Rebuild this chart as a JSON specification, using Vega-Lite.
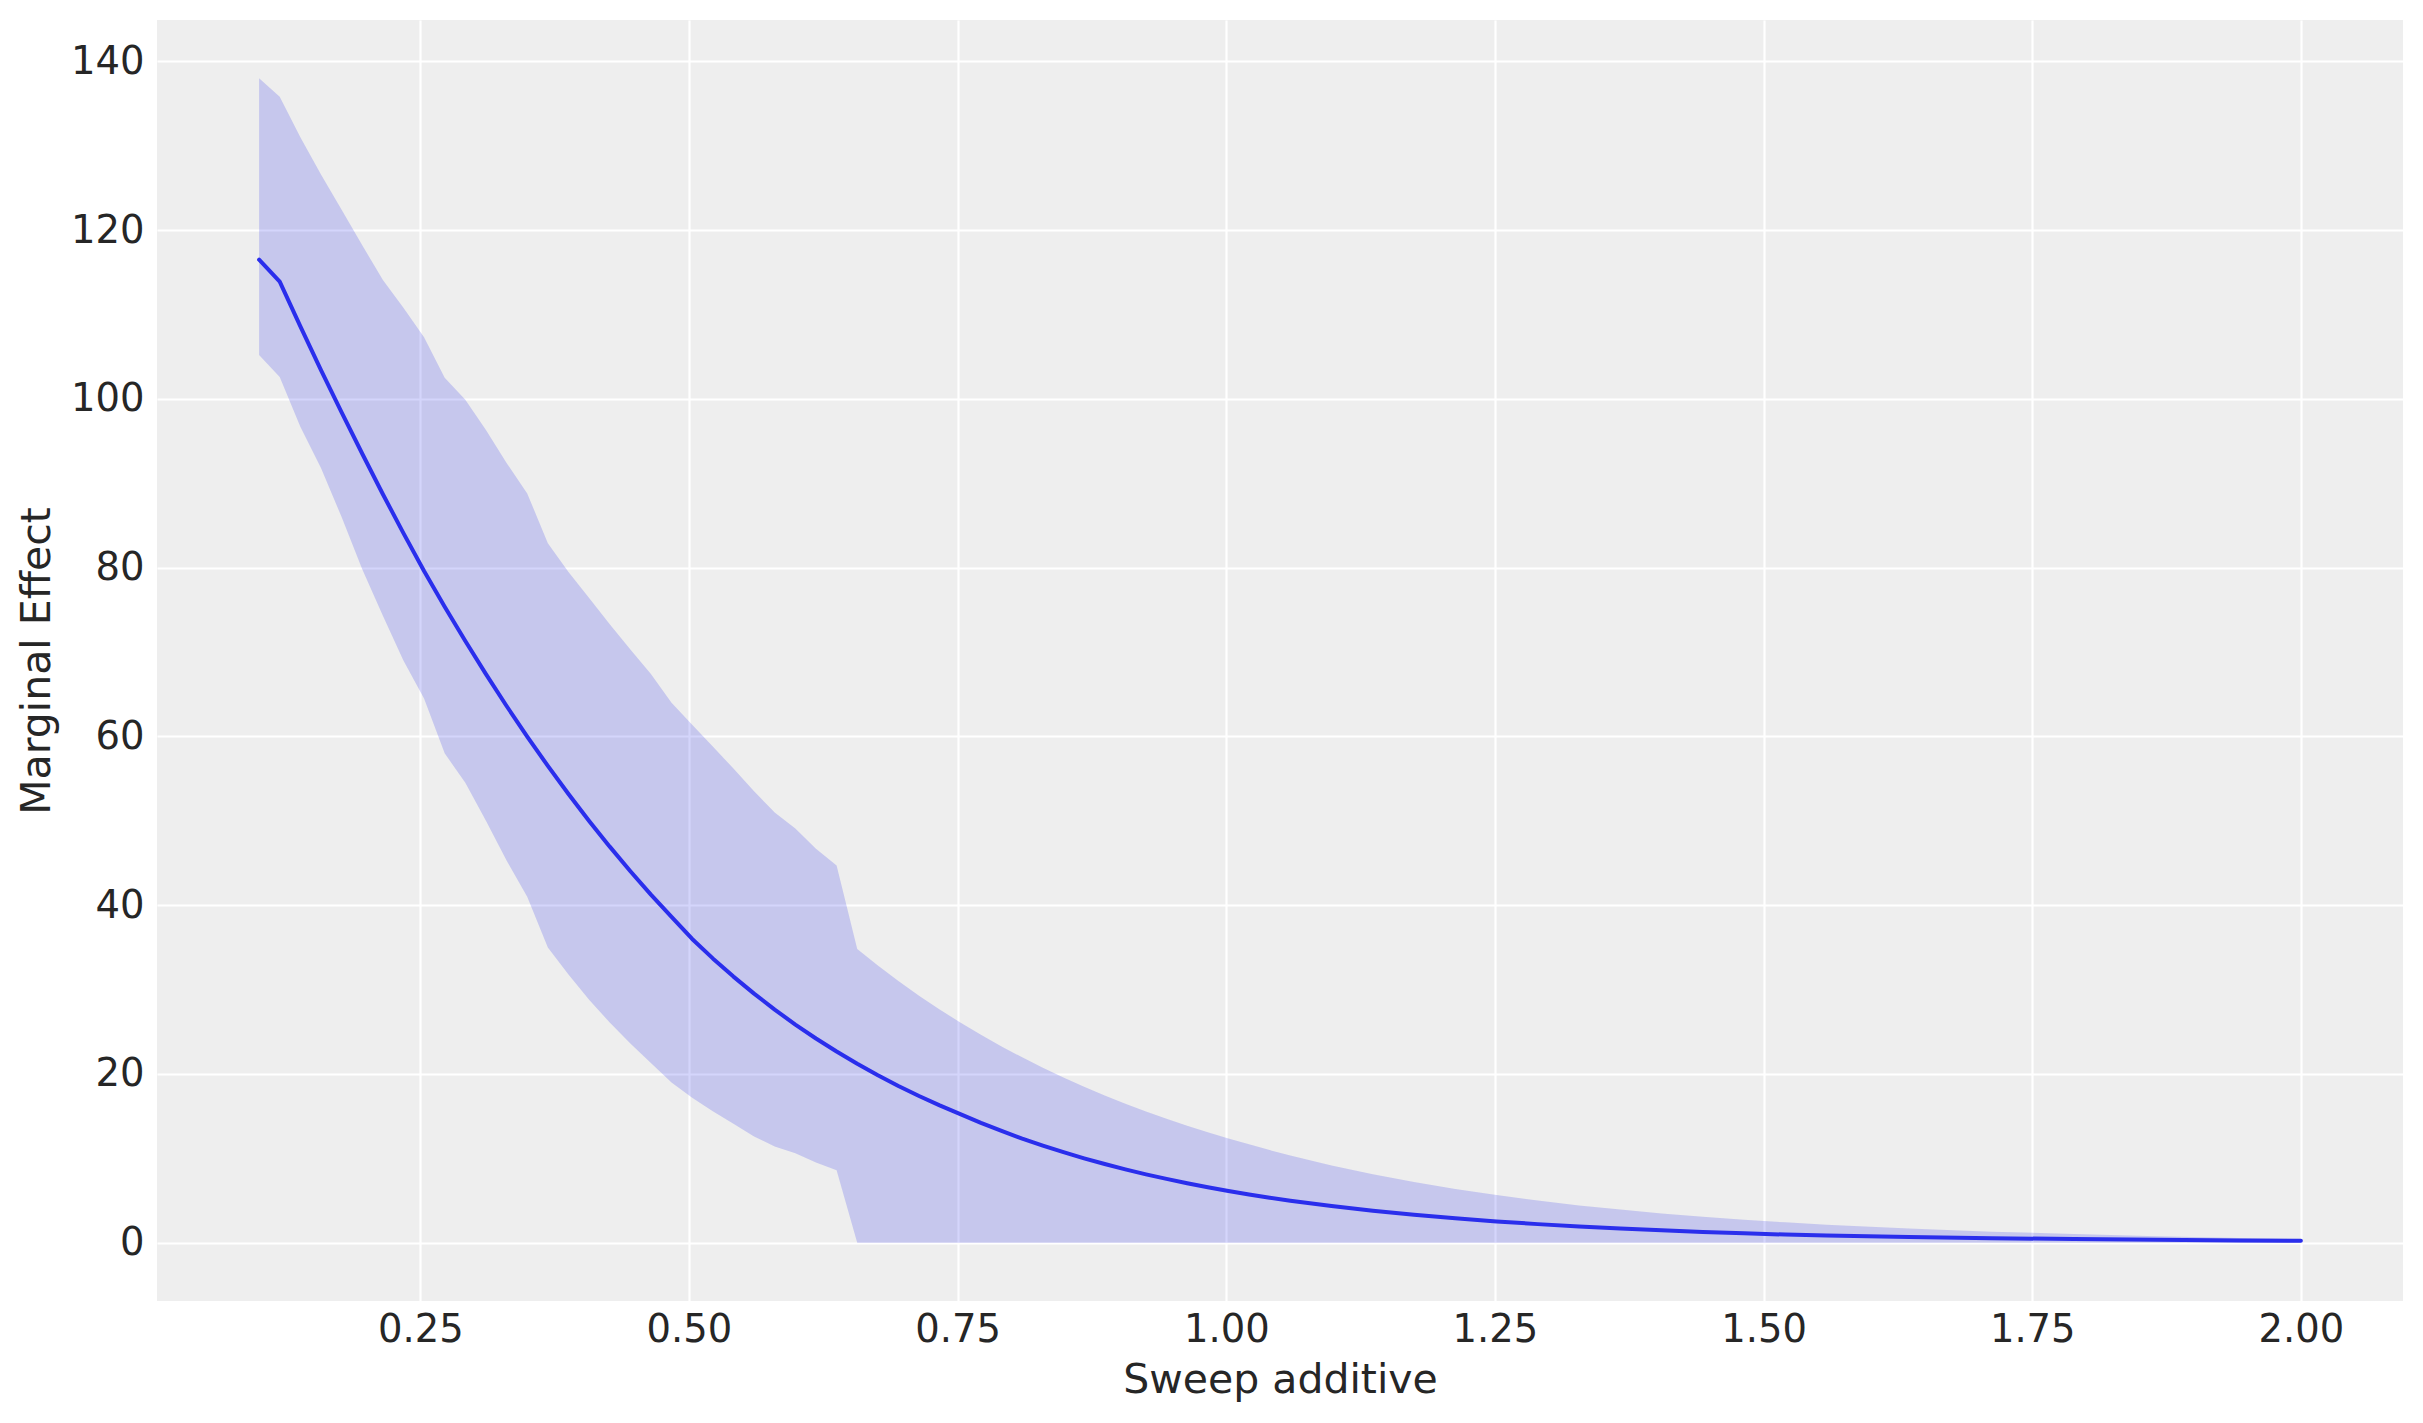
{
  "$schema": "https://vega.github.io/schema/vega-lite/v6.json",
  "description": "Marginal effect of sweep additive with HDI band.",
  "width": 2246,
  "height": 1281,
  "autosize": {"type": "none"},
  "padding": {"left": 157, "top": 20, "right": 20, "bottom": 122},
  "background": "white",
  "data": {
    "values": [
      {"x": 0.1, "mean": 116.5, "lo": 105.2, "hi": 138.0},
      {"x": 0.1192, "mean": 113.9, "lo": 102.6, "hi": 135.8},
      {"x": 0.1384, "mean": 108.6, "lo": 96.7, "hi": 131.0},
      {"x": 0.1576, "mean": 103.4, "lo": 91.8, "hi": 126.6},
      {"x": 0.1768, "mean": 98.4, "lo": 86.0, "hi": 122.4},
      {"x": 0.196, "mean": 93.5, "lo": 79.8, "hi": 118.2},
      {"x": 0.2152, "mean": 88.7, "lo": 74.3, "hi": 114.1},
      {"x": 0.2343, "mean": 84.1, "lo": 69.0, "hi": 110.8},
      {"x": 0.2535, "mean": 79.6, "lo": 64.5, "hi": 107.3},
      {"x": 0.2727, "mean": 75.38, "lo": 58.0, "hi": 102.5},
      {"x": 0.2919, "mean": 71.31, "lo": 54.5, "hi": 99.9},
      {"x": 0.3111, "mean": 67.39, "lo": 50.0, "hi": 96.3},
      {"x": 0.3303, "mean": 63.61, "lo": 45.3, "hi": 92.4},
      {"x": 0.3495, "mean": 59.99, "lo": 41.0, "hi": 88.8},
      {"x": 0.3687, "mean": 56.51, "lo": 35.0, "hi": 82.9},
      {"x": 0.3879, "mean": 53.18, "lo": 31.8, "hi": 79.5},
      {"x": 0.4071, "mean": 49.99, "lo": 28.8, "hi": 76.4},
      {"x": 0.4263, "mean": 46.94, "lo": 26.1, "hi": 73.3},
      {"x": 0.4455, "mean": 44.03, "lo": 23.6, "hi": 70.3},
      {"x": 0.4646, "mean": 41.26, "lo": 21.3, "hi": 67.4},
      {"x": 0.4838, "mean": 38.62, "lo": 19.0, "hi": 64.0},
      {"x": 0.503, "mean": 36.0, "lo": 17.2, "hi": 61.4},
      {"x": 0.5222, "mean": 33.7, "lo": 15.6, "hi": 58.8},
      {"x": 0.5414, "mean": 31.54, "lo": 14.1, "hi": 56.2},
      {"x": 0.5606, "mean": 29.52, "lo": 12.6, "hi": 53.5},
      {"x": 0.5798, "mean": 27.63, "lo": 11.4, "hi": 51.0},
      {"x": 0.599, "mean": 25.86, "lo": 10.6, "hi": 49.1},
      {"x": 0.6182, "mean": 24.21, "lo": 9.5, "hi": 46.7},
      {"x": 0.6374, "mean": 22.66, "lo": 8.6, "hi": 44.7},
      {"x": 0.6566, "mean": 21.21, "lo": 0, "hi": 34.8},
      {"x": 0.6758, "mean": 19.85, "lo": 0, "hi": 32.85},
      {"x": 0.6949, "mean": 18.58, "lo": 0, "hi": 31.02},
      {"x": 0.7141, "mean": 17.39, "lo": 0, "hi": 29.28},
      {"x": 0.7333, "mean": 16.28, "lo": 0, "hi": 27.65},
      {"x": 0.7525, "mean": 15.24, "lo": 0, "hi": 26.1},
      {"x": 0.7717, "mean": 14.21, "lo": 0, "hi": 24.64},
      {"x": 0.7909, "mean": 13.25, "lo": 0, "hi": 23.27},
      {"x": 0.8101, "mean": 12.35, "lo": 0, "hi": 21.97},
      {"x": 0.8293, "mean": 11.52, "lo": 0, "hi": 20.74},
      {"x": 0.8485, "mean": 10.74, "lo": 0, "hi": 19.58},
      {"x": 0.8677, "mean": 10.01, "lo": 0, "hi": 18.48},
      {"x": 0.8869, "mean": 9.33, "lo": 0, "hi": 17.45},
      {"x": 0.9061, "mean": 8.7, "lo": 0, "hi": 16.48},
      {"x": 0.9253, "mean": 8.11, "lo": 0, "hi": 15.55},
      {"x": 0.9444, "mean": 7.57, "lo": 0, "hi": 14.69},
      {"x": 0.9636, "mean": 7.05, "lo": 0, "hi": 13.86},
      {"x": 0.9828, "mean": 6.58, "lo": 0, "hi": 13.09},
      {"x": 1.002, "mean": 6.13, "lo": 0, "hi": 12.36},
      {"x": 1.0212, "mean": 5.72, "lo": 0, "hi": 11.67},
      {"x": 1.0404, "mean": 5.34, "lo": 0, "hi": 10.98},
      {"x": 1.0596, "mean": 4.99, "lo": 0, "hi": 10.34},
      {"x": 1.098, "mean": 4.36, "lo": 0, "hi": 9.16},
      {"x": 1.1364, "mean": 3.8, "lo": 0, "hi": 8.12},
      {"x": 1.1747, "mean": 3.32, "lo": 0, "hi": 7.19},
      {"x": 1.2131, "mean": 2.9, "lo": 0, "hi": 6.37},
      {"x": 1.2515, "mean": 2.53, "lo": 0, "hi": 5.65},
      {"x": 1.2899, "mean": 2.21, "lo": 0, "hi": 5.0},
      {"x": 1.3283, "mean": 1.93, "lo": 0, "hi": 4.43},
      {"x": 1.3667, "mean": 1.68, "lo": 0, "hi": 3.93},
      {"x": 1.4051, "mean": 1.47, "lo": 0, "hi": 3.48},
      {"x": 1.4434, "mean": 1.28, "lo": 0, "hi": 3.08},
      {"x": 1.4818, "mean": 1.12, "lo": 0, "hi": 2.73},
      {"x": 1.5202, "mean": 0.975, "lo": 0, "hi": 2.42},
      {"x": 1.5586, "mean": 0.87, "lo": 0, "hi": 2.14},
      {"x": 1.6354, "mean": 0.69, "lo": 0, "hi": 1.68},
      {"x": 1.7121, "mean": 0.55, "lo": 0, "hi": 1.32},
      {"x": 1.7889, "mean": 0.435, "lo": 0, "hi": 1.04},
      {"x": 1.8657, "mean": 0.345, "lo": 0, "hi": 0.77},
      {"x": 1.9424, "mean": 0.274, "lo": 0, "hi": 0.57},
      {"x": 2.0, "mean": 0.23, "lo": 0, "hi": 0.46}
    ]
  },
  "encoding": {
    "x": {
      "field": "x",
      "type": "quantitative",
      "title": "Sweep additive",
      "scale": {"domain": [0.005, 2.095], "nice": false, "zero": false},
      "axis": {"values": [0.25, 0.5, 0.75, 1.0, 1.25, 1.5, 1.75, 2.0], "format": ".2f"}
    }
  },
  "layer": [
    {
      "mark": {"type": "area", "color": "#2a2eec", "opacity": 0.2},
      "encoding": {
        "y": {
          "field": "lo",
          "type": "quantitative",
          "title": "Marginal Effect",
          "scale": {"domain": [-6.9, 144.9], "nice": false, "zero": false},
          "axis": {"values": [0, 20, 40, 60, 80, 100, 120, 140], "format": "d"}
        },
        "y2": {"field": "hi"}
      }
    },
    {
      "mark": {"type": "line", "color": "#2a2eec", "strokeWidth": 4, "strokeCap": "round", "strokeJoin": "round"},
      "encoding": {
        "y": {"field": "mean", "type": "quantitative"}
      }
    }
  ],
  "config": {
    "font": "DejaVu Sans",
    "view": {"fill": "#eeeeee", "stroke": null},
    "axis": {
      "domain": false,
      "ticks": false,
      "tickSize": 0,
      "grid": true,
      "gridColor": "white",
      "gridWidth": 2.2,
      "labelFont": "DejaVu Sans",
      "labelFontSize": 38.5,
      "labelColor": "#262626",
      "titleFont": "DejaVu Sans",
      "titleFontSize": 41,
      "titleFontWeight": "normal",
      "titleColor": "#262626"
    },
    "axisX": {"labelPadding": 10, "titlePadding": 12},
    "axisY": {"labelPadding": 13, "titlePadding": 12}
  }
}
